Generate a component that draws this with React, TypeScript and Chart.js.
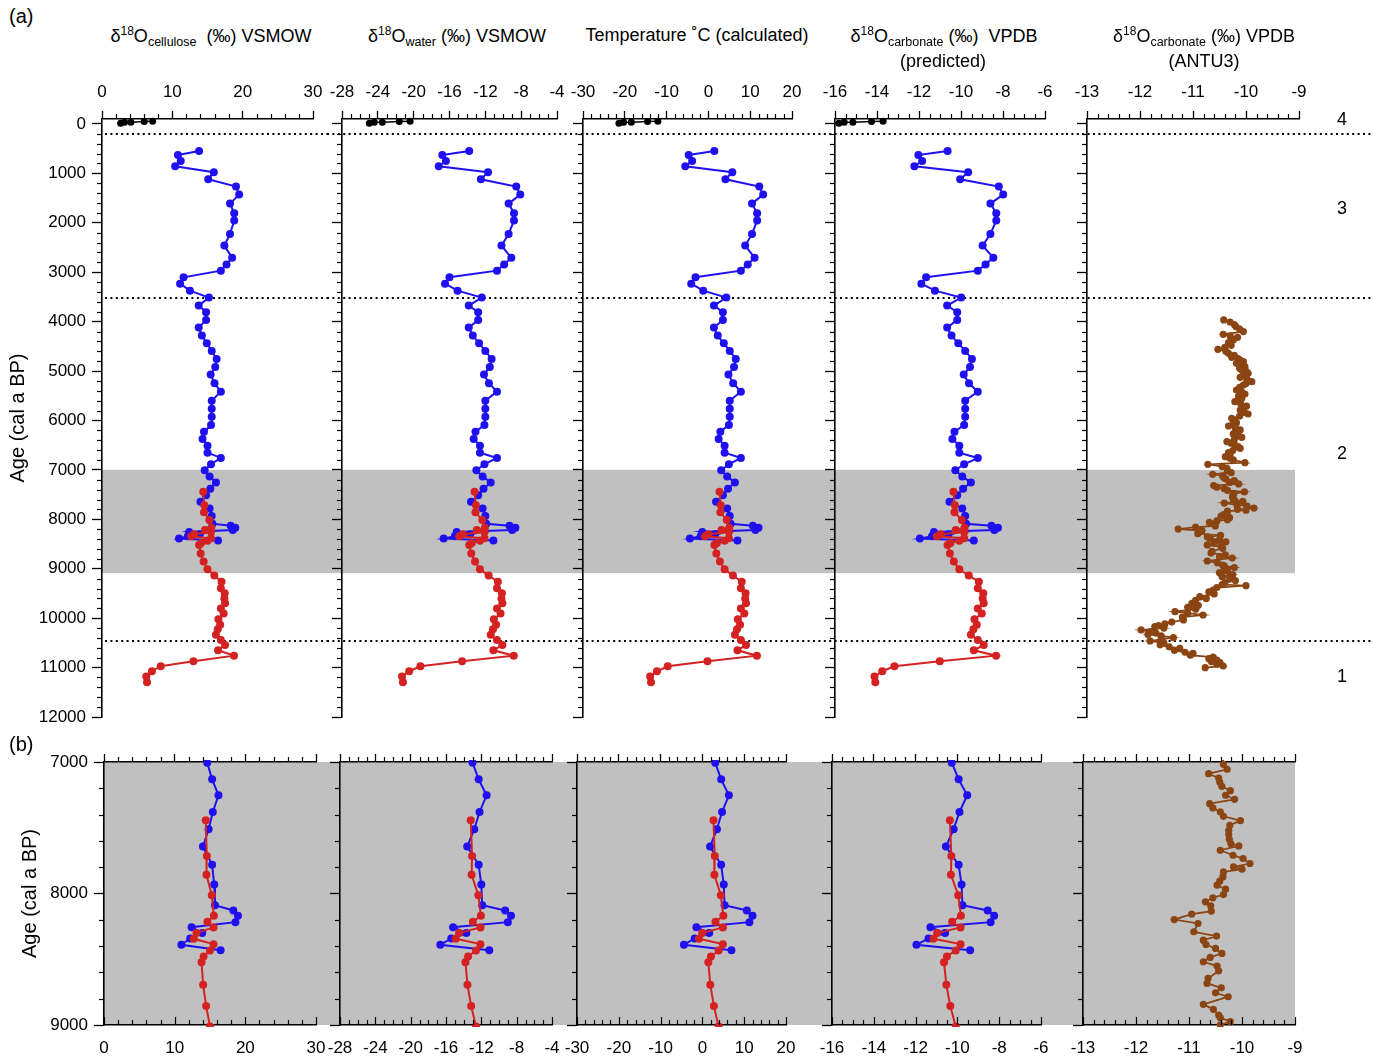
import React, { useEffect, useRef } from 'react';
import { Chart, registerables } from 'chart.js';

Chart.register(...registerables);

const FONT = "'Liberation Sans', Arial, Helvetica, sans-serif";

// ---------------- data ----------------
const blueAge = [546,627,749,857,978,1120,1268,1430,1612,1808,1956,2226,2462,2705,2846,2968,3103,3232,3373,3514,3676,3810,3966,4121,4283,4439,4593,4755,4917,5072,5247,5417,5599,5761,5923,6091,6226,6374,6510,6651,6758,6886,7005,7132,7253,7380,7511,7643,7782,7932,8089,8129,8170,8218,8256,8301,8342,8390,8431];
const blueCellulose = [13.8,10.8,11.2,10.4,15.9,15.1,19.05,19.5,18.2,18.8,18.8,18.2,17.4,18.5,17.7,16.9,11.6,11.1,12.5,15.2,13.75,14.8,14.8,13.75,14.2,14.9,15.6,16.3,16.1,15.45,16.0,16.9,15.6,15.6,15.6,15.5,14.5,14.3,15.0,15.0,16.9,15.5,14.6,15.3,16.2,15.4,14.8,14.0,15.3,15.6,15.7,18.3,18.96,18.6,12.4,13.9,12.2,10.95,16.5];
const blueWater = [-13.8,-16.8,-16.4,-17.2,-11.7,-12.5,-8.55,-8.1,-9.4,-8.8,-8.8,-9.4,-10.2,-9.1,-9.9,-10.7,-16.0,-16.5,-15.1,-12.4,-13.85,-12.8,-12.8,-13.85,-13.4,-12.7,-12.0,-11.3,-11.5,-12.15,-11.6,-10.7,-12.0,-12.0,-12.0,-12.1,-13.1,-13.3,-12.6,-12.6,-10.7,-12.1,-13.0,-12.3,-11.4,-12.2,-12.8,-13.6,-12.3,-12.0,-11.9,-9.3,-8.64,-9.0,-15.2,-13.7,-15.4,-16.65,-11.1];
const blueTemp = [1.42,-4.72,-3.9,-5.54,5.72,4.08,12.17,13.1,10.43,11.66,11.66,10.43,8.8,11.05,9.41,7.77,-3.08,-4.11,-1.24,4.29,1.32,3.47,3.47,1.32,2.24,3.68,5.11,6.54,6.13,4.8,5.93,7.77,5.11,5.11,5.11,4.9,2.86,2.45,3.88,3.88,7.77,4.9,3.06,4.49,6.34,4.7,3.47,1.83,4.49,5.11,5.31,10.64,11.99,11.25,-1.44,1.63,-1.85,-4.42,6.95];
const blueCarb = [-10.64,-12.03,-11.85,-12.22,-9.66,-10.04,-8.2,-7.99,-8.6,-8.32,-8.32,-8.6,-8.97,-8.46,-8.83,-9.2,-11.66,-11.89,-11.24,-9.99,-10.66,-10.18,-10.18,-10.66,-10.45,-10.13,-9.8,-9.48,-9.57,-9.87,-9.62,-9.2,-9.8,-9.8,-9.8,-9.85,-10.31,-10.41,-10.08,-10.08,-9.2,-9.85,-10.27,-9.94,-9.53,-9.9,-10.18,-10.55,-9.94,-9.8,-9.76,-8.55,-8.24,-8.41,-11.29,-10.59,-11.38,-11.96,-9.39];

const redAge = [7443,7714,7858,8013,8170,8215,8258,8301,8344,8385,8433,8479,8522,8694,8856,9011,9139,9261,9395,9496,9600,9699,9807,9908,10022,10131,10225,10334,10441,10542,10650,10759,10872,10973,11074,11183,11297];
const redCellulose = [14.4,14.55,14.5,15.26,15.55,14.64,15.5,13.08,12.7,15.5,15.0,14.1,13.8,14.03,14.45,15.0,15.97,17.0,16.9,17.45,17.4,17.5,16.9,17.3,16.55,16.8,16.45,16.2,16.9,17.5,16.5,18.77,13.0,8.35,7.1,6.3,6.4];
const redWater = [-13.2,-13.05,-13.1,-12.34,-12.05,-12.96,-12.1,-14.52,-14.9,-12.1,-12.6,-13.5,-13.8,-13.57,-13.15,-12.6,-11.63,-10.6,-10.7,-10.15,-10.2,-10.1,-10.7,-10.3,-11.05,-10.8,-11.15,-11.4,-10.7,-10.1,-11.1,-8.83,-14.6,-19.25,-20.5,-21.3,-21.2];
const redTemp = [2.65,2.96,2.86,4.41,5.01,3.14,4.9,-0.05,-0.83,4.9,3.88,2.04,1.42,1.89,2.75,3.88,5.87,7.98,7.77,8.9,8.8,9.0,7.77,8.59,7.05,7.57,6.85,6.34,7.77,9.0,6.95,11.6,-0.22,-9.74,-12.3,-13.94,-13.73];
const redCarb = [-10.36,-10.29,-10.31,-9.96,-9.83,-10.25,-9.85,-10.97,-11.15,-9.85,-10.08,-10.5,-10.64,-10.53,-10.34,-10.08,-9.63,-9.15,-9.2,-8.94,-8.97,-8.92,-9.2,-9.01,-9.36,-9.25,-9.41,-9.53,-9.2,-8.92,-9.39,-8.33,-11.01,-13.17,-13.75,-14.12,-14.08];

const blackAge = [-14,-34,-34,-47,-55];
const blackCellulose = [2.65,3.2,4.1,6.0,7.2];
const blackWater = [-24.95,-24.4,-23.5,-21.6,-20.4];
const blackTemp = [-21.41,-20.29,-18.44,-14.55,-12.09];
const blackCarb = [-15.82,-15.56,-15.15,-14.26,-13.71];

const brownAge = [3966,4010,4060,4101,4150,4202,4256,4290,4317,4370,4425,4480,4520,4560,4600,4641,4680,4722,4750,4776,4810,4843,4880,4911,4945,4978,5010,5046,5090,5127,5170,5214,5250,5282,5330,5383,5420,5464,5510,5552,5590,5619,5660,5707,5750,5788,5830,5869,5910,5957,6000,6044,6080,6112,6150,6192,6230,6273,6310,6341,6385,6428,6460,6496,6530,6563,6610,6651,6690,6732,6765,6799,6853,6887,6930,6968,
  7018,7056,7089,7122,7152,7185,7218,7253,7284,7317,7349,7380,7413,7446,7481,7519,7552,7587,7620,7638,7671,7709,7734,7772,7798,7815,7836,7874,7906,7937,7967,8008,8033,8063,8094,8134,8157,8198,8228,8291,8324,8355,8388,8418,8456,8486,8519,8552,8588,8646,8684,8717,8755,8785,8843,8881,8924,8944,8975,9000,
  9040,9080,9120,9160,9200,9240,9280,9320,9343,9380,9430,9470,9510,9565,9600,9640,9700,9740,9780,9820,9868,9900,9936,9980,10036,10080,10117,10150,10172,10200,10239,10270,10300,10330,10360,10394,10430,10461,10500,10540,10580,10610,10650,10690,10711,10750,10790,10820,10850,10880,10900,10930,10968,11001];
const brownCarb = [-10.42,-10.30,-10.22,-10.19,-10.12,-10.05,-10.43,-10.30,-10.16,-10.24,-10.33,-10.28,-10.40,-10.53,-10.38,-10.33,-10.22,-10.27,-10.15,-10.11,-10.05,-10.18,-10.08,-10.02,-10.12,-10.08,-9.99,-9.96,-10.05,-10.11,-9.98,-9.89,-10.00,-10.05,-10.12,-10.18,-10.08,-10.02,-10.14,-10.08,-10.15,-10.21,-10.10,-9.99,-10.06,-10.11,-10.03,-9.96,-10.12,-10.27,-10.22,-10.18,-10.25,-10.33,-10.20,-10.11,-10.19,-10.24,-10.15,-10.08,-10.22,-10.36,-10.28,-10.21,-10.15,-10.11,-10.25,-10.33,-10.30,-10.39,-10.30,-10.24,-10.02,-10.72,-10.45,-10.36,
  -10.35,-10.28,-10.63,-10.44,-10.42,-10.38,-10.22,-10.31,-10.14,-10.61,-10.55,-10.41,-10.35,-10.03,-10.23,-10.25,-10.25,-10.24,-10.21,-10.06,-10.41,-10.17,-9.98,-9.85,-10.16,-10.00,-10.35,-10.36,-10.42,-10.47,-10.31,-10.35,-10.55,-10.69,-10.59,-10.58,-10.95,-11.28,-10.83,-10.91,-10.48,-10.73,-10.68,-10.50,-10.38,-10.60,-10.73,-10.47,-10.44,-10.64,-10.66,-10.39,-10.50,-10.26,-10.73,-10.54,-10.44,-10.41,-10.22,-10.41,
  -10.35,-10.50,-10.25,-10.45,-10.30,-10.20,-10.40,-10.45,-10.00,-10.55,-10.62,-10.70,-10.60,-10.87,-10.75,-10.95,-11.02,-10.90,-11.10,-10.95,-11.34,-11.10,-10.81,-11.20,-11.18,-11.40,-11.53,-11.65,-11.72,-11.55,-11.98,-11.80,-11.70,-11.85,-11.60,-11.37,-11.60,-11.81,-11.55,-11.62,-11.45,-11.25,-11.35,-11.15,-11.00,-11.05,-10.62,-10.70,-10.55,-10.65,-10.49,-10.55,-10.43,-10.77];

// tick labels
const celluloseTicks = [0, 10, 20, 30];
const waterTicks = [-28, -24, -20, -16, -12, -8, -4];
const tempTicks = [-30, -20, -10, 0, 10, 20];
const carbTicks = [-16, -14, -12, -10, -8, -6];
const antuTicks = [-13, -12, -11, -10, -9];
const ageTicksTop = [0, 1000, 2000, 3000, 4000, 5000, 6000, 7000, 8000, 9000, 10000, 11000, 12000];
const ageTicksBottom = [7000, 8000, 9000];
const zoneBoundaries = [200, 3530, 10465];
const grayIntervalTop = [7000, 9090];
const grayIntervalBottom = [7000, 9000];
const zoneLabels = ['4', '3', '2', '1'];

const BLUE = '#1f10f0';
const RED = '#d42222';
const BLACK = '#000000';
const BROWN = '#8b4513';

type Series = { xs: number[]; ys: number[]; color: string; radius: number; width: number };

const decorPlugin: any = {
  id: 'decor',
  beforeDraw(chart: any, _a: any, opts: any) {
    const { ctx, chartArea } = chart;
    const y = chart.scales.y;
    const x0 = opts.first ? chartArea.left : 0;
    const x1 = opts.last ? chartArea.right - opts.rightInset : chart.width;
    const t = y.getPixelForValue(opts.gray[0]);
    const b = y.getPixelForValue(opts.gray[1]);
    ctx.save();
    ctx.fillStyle = '#c0c0c0';
    ctx.fillRect(x0, t, x1 - x0, b - t);
    ctx.restore();
  },
  beforeDatasetsDraw(chart: any, _a: any, opts: any) {
    const lines: number[] = opts.dotted || [];
    if (!lines.length) return;
    const { ctx, chartArea } = chart;
    const y = chart.scales.y;
    const x0 = opts.first ? chartArea.left + 3 : 0;
    const x1 = chart.width;
    ctx.save();
    ctx.strokeStyle = '#000';
    ctx.lineWidth = 2;
    ctx.setLineDash([2, 3.4]);
    for (const age of lines) {
      const py = Math.round(y.getPixelForValue(age));
      ctx.beginPath();
      ctx.moveTo(x0, py);
      ctx.lineTo(x1, py);
      ctx.stroke();
    }
    ctx.restore();
  },
};

const minorTickPlugin: any = {
  id: 'minorTicks',
  afterDraw(chart: any, _a: any, opts: any) {
    const { ctx, chartArea } = chart;
    ctx.save();
    ctx.strokeStyle = '#000';
    ctx.lineWidth = 1.2;
    ctx.setLineDash([]);
    for (const spec of opts.specs || []) {
      const sc = chart.scales[spec.id];
      if (!sc) continue;
      const n = Math.round((spec.to - spec.from) / spec.step);
      for (let i = 0; i <= n; i++) {
        const v = spec.from + i * spec.step;
        const r = v / spec.major;
        const isMajor = Math.abs(r - Math.round(r)) < 1e-6;
        if (isMajor && !spec.withMajor) continue;
        const len = isMajor ? spec.majorLen : spec.len;
        const p = Math.round(sc.getPixelForValue(v)) + 0.5;
        ctx.beginPath();
        if (spec.id === 'y') {
          ctx.moveTo(chartArea.left, p);
          ctx.lineTo(chartArea.left - len, p);
        } else {
          const base = spec.edge === 'top' ? chartArea.top : chartArea.bottom;
          ctx.moveTo(p, base);
          ctx.lineTo(p, base - len);
        }
        ctx.stroke();
      }
    }
    ctx.restore();
  },
};

type PanelProps = {
  row: 'top' | 'bottom';
  index: number;
  cl: number; cr: number; ct: number; cb: number;
  al: number; ar: number; at: number; ab: number;
  xTicks: number[]; xMinor: number;
  yMin: number; yMax: number; yTicks: number[];
  yTitlePad: number;
  series: Series[];
};

function Panel(p: PanelProps) {
  const ref = useRef<HTMLCanvasElement>(null);
  const W = p.cr - p.cl;
  const H = p.cb - p.ct;
  useEffect(() => {
    const canvas = ref.current;
    if (!canvas) return;
    const isTop = p.row === 'top';
    const first = p.index === 0;
    const last = p.index === 4;
    const xMin = p.xTicks[0];
    const xMax = p.xTicks[p.xTicks.length - 1];
    const xMajor = p.xTicks[1] - p.xTicks[0];
    const yW = p.al - p.cl;
    const topH = p.at - p.ct;
    const botH = p.cb - p.ab;
    const rightPad = p.cr - p.ar;
    const zeroPad = (s: any) => { s.paddingLeft = 0; s.paddingRight = 0; s.paddingTop = 0; s.paddingBottom = 0; };
    const tickFont = { family: FONT, size: 17 };
    const border = { display: true, color: '#000', width: 1.6 };

    const scales: any = {
      x: {
        type: 'linear',
        position: isTop ? 'top' : 'bottom',
        min: xMin,
        max: xMax,
        afterBuildTicks: (s: any) => { s.ticks = p.xTicks.map((v) => ({ value: v })); },
        afterFit: (s: any) => { s.height = isTop ? topH : botH; zeroPad(s); },
        grid: { drawOnChartArea: false, drawTicks: isTop, tickLength: 8, tickColor: '#000', tickWidth: 1.3 },
        border,
        ticks: { color: '#000', font: tickFont, padding: isTop ? 8 : 13, maxRotation: 0, autoSkip: false, callback: (v: any) => String(v) },
      },
      y: {
        type: 'linear',
        position: 'left',
        reverse: true,
        min: p.yMin,
        max: p.yMax,
        afterBuildTicks: (s: any) => { s.ticks = p.yTicks.map((v) => ({ value: v })); },
        afterFit: (s: any) => { s.width = yW; zeroPad(s); },
        grid: { drawOnChartArea: false, drawTicks: true, tickLength: 10, tickColor: '#000', tickWidth: 1.3 },
        border,
        ticks: { display: first, color: '#000', font: tickFont, padding: 6, autoSkip: false, callback: (v: any) => String(v) },
        title: {
          display: first,
          text: 'Age (cal a BP)',
          color: '#000',
          font: { family: FONT, size: 20 },
          padding: { top: p.yTitlePad, bottom: 0 },
        },
      },
    };
    if (!isTop) {
      scales.xTop = {
        type: 'linear',
        position: 'top',
        min: xMin,
        max: xMax,
        afterBuildTicks: (s: any) => { s.ticks = p.xTicks.map((v) => ({ value: v })); },
        afterFit: (s: any) => { s.height = topH; zeroPad(s); },
        grid: { drawOnChartArea: false, drawTicks: true, tickLength: 8, tickColor: '#000', tickWidth: 1.3 },
        border,
        ticks: { display: false },
      };
    }

    const yMinorFrom = p.yTicks[0];
    const yMinorTo = p.yTicks[p.yTicks.length - 1];
    const specs: any[] = [
      { id: 'y', from: yMinorFrom, to: yMinorTo, step: 200, major: 1000, len: 5, majorLen: 10, withMajor: false },
      { id: isTop ? 'x' : 'xTop', edge: 'top', from: xMin, to: xMax, step: p.xMinor, major: xMajor, len: 5, majorLen: 8, withMajor: false },
    ];
    if (!isTop) {
      specs.push({ id: 'x', edge: 'bottom', from: xMin, to: xMax, step: p.xMinor, major: xMajor, len: 5, majorLen: 8, withMajor: true });
    }

    const datasets = p.series.map((s) => ({
      data: s.xs.map((v, i) => ({ x: v, y: s.ys[i] })),
      borderColor: s.color,
      backgroundColor: s.color,
      pointRadius: s.radius,
      pointHoverRadius: s.radius,
      pointBorderWidth: 0,
      borderWidth: s.width,
      showLine: true,
      tension: 0,
      xAxisID: 'x',
      yAxisID: 'y',
      clip: isTop ? false : 2,
    }));

    const chart = new Chart(canvas, {
      type: 'scatter',
      data: { datasets } as any,
      options: {
        responsive: false,
        maintainAspectRatio: false,
        devicePixelRatio: 1,
        animation: false,
        events: [],
        layout: { padding: { left: 0, top: 0, right: rightPad, bottom: isTop ? botH : 0 } },
        scales,
        plugins: {
          legend: { display: false },
          tooltip: { enabled: false },
          decor: {
            first,
            last,
            rightInset: isTop ? 4 : 0,
            gray: isTop ? grayIntervalTop : grayIntervalBottom,
            dotted: isTop ? zoneBoundaries : [],
          },
          minorTicks: { specs },
        } as any,
      } as any,
      plugins: [decorPlugin, minorTickPlugin],
    });
    return () => chart.destroy();
  }, []);
  return (
    <canvas
      ref={ref}
      width={W}
      height={H}
      style={{ position: 'absolute', left: p.cl, top: p.ct, width: W, height: H }}
    />
  );
}

const Sup = ({ t }: { t: string }) => (
  <span style={{ fontSize: 12, position: 'relative', top: -7 }}>{t}</span>
);
const Sub = ({ t }: { t: string }) => (
  <span style={{ fontSize: 12.5, position: 'relative', top: 4 }}>{t}</span>
);

function Label(props: { cx: number; top: number; children: any; size?: number }) {
  return (
    <div
      style={{
        position: 'absolute',
        left: props.cx - 160,
        top: props.top,
        width: 320,
        textAlign: 'center',
        fontFamily: FONT,
        fontSize: props.size || 18,
        lineHeight: '22px',
        whiteSpace: 'pre',
        color: '#000',
      }}
    >
      {props.children}
    </div>
  );
}

export default function App() {
  const cellSeries = (isTop: boolean): Series[] => [
    { xs: redCellulose, ys: redAge, color: RED, radius: 4, width: 2 },
    { xs: blueCellulose, ys: blueAge, color: BLUE, radius: 4, width: 2 },
    ...(isTop ? [{ xs: blackCellulose, ys: blackAge, color: BLACK, radius: 3.5, width: 1.5 }] : []),
  ];
  const waterSeries = (isTop: boolean): Series[] => [
    { xs: redWater, ys: redAge, color: RED, radius: 4, width: 2 },
    { xs: blueWater, ys: blueAge, color: BLUE, radius: 4, width: 2 },
    ...(isTop ? [{ xs: blackWater, ys: blackAge, color: BLACK, radius: 3.5, width: 1.5 }] : []),
  ];
  const tempSeries = (isTop: boolean): Series[] => [
    { xs: redTemp, ys: redAge, color: RED, radius: 4, width: 2 },
    { xs: blueTemp, ys: blueAge, color: BLUE, radius: 4, width: 2 },
    ...(isTop ? [{ xs: blackTemp, ys: blackAge, color: BLACK, radius: 3.5, width: 1.5 }] : []),
  ];
  const carbSeries = (isTop: boolean): Series[] => [
    { xs: redCarb, ys: redAge, color: RED, radius: 4, width: 2 },
    { xs: blueCarb, ys: blueAge, color: BLUE, radius: 4, width: 2 },
    ...(isTop ? [{ xs: blackCarb, ys: blackAge, color: BLACK, radius: 3.5, width: 1.5 }] : []),
  ];
  const antuSeries = (): Series[] => [
    { xs: brownCarb, ys: brownAge, color: BROWN, radius: 3.6, width: 1.8 },
  ];

  const top = { ct: 70, cb: 730, at: 119, ab: 717, yMin: -100, yMax: 12000, yTicks: ageTicksTop, yTitlePad: 6 };
  const bot = { ct: 735, cb: 1059, at: 762, ab: 1025, yMin: 7000, yMax: 9000, yTicks: ageTicksBottom, yTitlePad: 18 };

  const topPanels = [
    { cl: 0, cr: 327, al: 102, ar: 313, xTicks: celluloseTicks, xMinor: 2, series: cellSeries(true) },
    { cl: 327, cr: 570, al: 342, ar: 557, xTicks: waterTicks, xMinor: 1, series: waterSeries(true) },
    { cl: 570, cr: 813, al: 583, ar: 792, xTicks: tempTicks, xMinor: 2, series: tempSeries(true) },
    { cl: 813, cr: 1066, al: 835, ar: 1045, xTicks: carbTicks, xMinor: 0.5, series: carbSeries(true) },
    { cl: 1066, cr: 1373, al: 1087, ar: 1299, xTicks: antuTicks, xMinor: 0.2, series: antuSeries() },
  ];
  const bottomPanels = [
    { cl: 0, cr: 328, al: 104, ar: 316, xTicks: celluloseTicks, xMinor: 2, series: cellSeries(false) },
    { cl: 328, cr: 564, al: 340, ar: 552, xTicks: waterTicks, xMinor: 1, series: waterSeries(false) },
    { cl: 564, cr: 809, al: 577, ar: 786, xTicks: tempTicks, xMinor: 2, series: tempSeries(false) },
    { cl: 809, cr: 1062, al: 832, ar: 1041, xTicks: carbTicks, xMinor: 0.5, series: carbSeries(false) },
    { cl: 1062, cr: 1373, al: 1083, ar: 1295, xTicks: antuTicks, xMinor: 0.2, series: antuSeries() },
  ];

  const zoneLabelTops = [109, 198, 443, 666];

  return (
    <div style={{ position: 'absolute', left: 0, top: 0, width: 1373, height: 1059, background: '#fff', overflow: 'hidden' }}>
      {topPanels.map((tp, i) => (
        <Panel key={'t' + i} row="top" index={i} {...top} {...tp} />
      ))}
      {bottomPanels.map((bp, i) => (
        <Panel key={'b' + i} row="bottom" index={i} {...bot} {...bp} />
      ))}

      <div style={{ position: 'absolute', left: 9, top: 5, fontFamily: FONT, fontSize: 20, color: '#000' }}>(a)</div>
      <div style={{ position: 'absolute', left: 9, top: 733, fontFamily: FONT, fontSize: 20, color: '#000' }}>(b)</div>

      <Label cx={211} top={25}>δ<Sup t="18" />O<Sub t="cellulose" />{'  (‰) VSMOW'}</Label>
      <Label cx={457} top={25}>δ<Sup t="18" />O<Sub t="water" />{' (‰) VSMOW'}</Label>
      <Label cx={697} top={24}>Temperature ˚C (calculated)</Label>
      <Label cx={944} top={25}>δ<Sup t="18" />O<Sub t="carbonate" />{' (‰)  VPDB'}</Label>
      <Label cx={943} top={50}>(predicted)</Label>
      <Label cx={1204} top={25}>δ<Sup t="18" />O<Sub t="carbonate" />{' (‰) VPDB'}</Label>
      <Label cx={1204} top={50}>(ANTU3)</Label>

      {zoneLabels.map((z, i) => (
        <div key={z} style={{ position: 'absolute', left: 1337, top: zoneLabelTops[i], fontFamily: FONT, fontSize: 18, color: '#000' }}>{z}</div>
      ))}
    </div>
  );
}
